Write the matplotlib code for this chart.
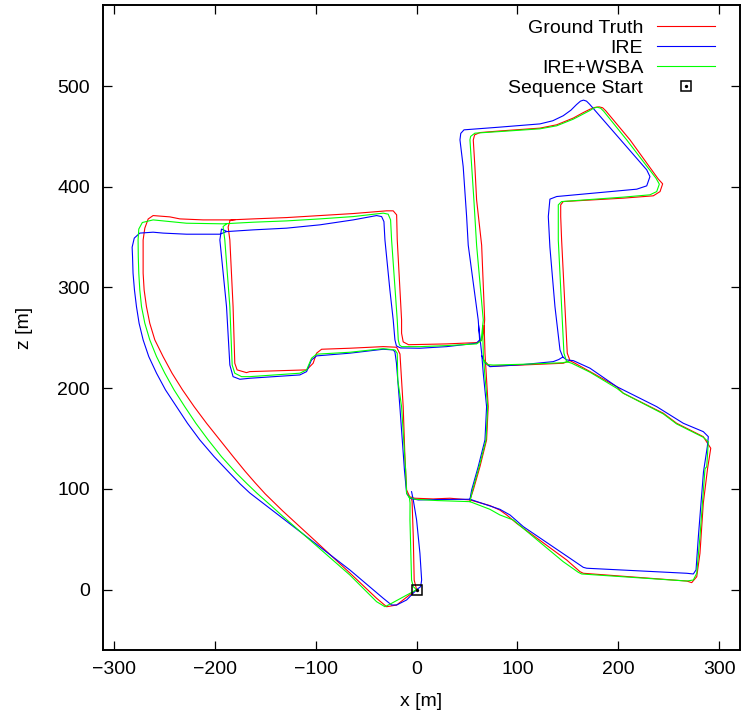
import numpy as np
import matplotlib.pyplot as plt
from matplotlib.legend_handler import HandlerTuple

plt.rcParams['font.family'] = ['Liberation Sans', 'DejaVu Sans']
plt.rcParams['font.size'] = 14

# --- Trajectories (x, z) in metres ---
# every series is kept as four pieces: the main route, the leg leaving the start,
# the eastern north-south road and the short link road at z ~ 222

# Ground Truth
gt_main = [(0, 0), (-5, -3.6), (-19.8, -15.2), (-29.8, -16.9), (-39.7, -8.5), (-66.2, 16.6),
           (-98.9, 47), (-132.6, 78), (-150, 95), (-160, 106), (-170, 117.5), (-181.9, 132.1),
           (-195.1, 148.7), (-208.3, 165.2), (-220.6, 181.7), (-232.1, 198.3), (-242.5, 214.9),
           (-251.4, 231.4), (-259.6, 248), (-264.6, 264.5), (-267.9, 281), (-270.2, 297.6),
           (-271.2, 314.2), (-271.2, 330.7), (-271.2, 347.2), (-269.5, 359), (-266.2, 368),
           (-261.3, 371.4), (-244.7, 370.1), (-234.8, 368.1), (-211.7, 367.1), (-185.2, 367.1),
           (-162.1, 368.1), (-129, 369.4), (-95.9, 371.4), (-62.9, 373.4), (-29.8, 376.1),
           (-23.2, 376.1), (-19.8, 372.1), (-19.2, 347.3), (-14.9, 267.8), (-14.9, 254.6),
           (-13.3, 246), (-8, 243.2), (29.8, 244), (59.5, 245.3), (64.5, 247.5), (66.5, 256),
           (67.5, 268), (64.5, 342), (59.5, 387), (57.8, 420), (56.2, 446.4), (57.5, 451.5),
           (62.8, 453.8), (82.6, 455.4), (122.3, 458.2), (138.9, 461.5), (155.4, 468.2),
           (165, 473.5), (172, 477), (177, 478.8), (181, 479.3), (184.5, 478.4), (187.5, 475.5),
           (211.6, 446.6), (239.7, 407.6), (244, 402.9), (241.4, 395.2), (234.7, 391),
           (205, 388.7), (145.4, 385.3), (142.9, 382), (142.9, 370.4), (143.8, 347.3),
           (147.1, 281), (149.4, 234.8), (152.1, 227.4), (157, 224.8), (172, 216.5),
           (198.4, 201.6), (205, 195), (244.6, 175.2), (257.9, 165.2), (284.3, 151.9),
           (291.7, 140.4), (288.5, 120), (284.3, 85.8), (281, 36.1), (277.8, 12.9), (272.8, 7),
           (267.9, 8.6), (165.3, 16.3), (162, 17.9), (148.8, 29.5), (99.2, 65.9), (89.3, 74.2),
           (82.6, 79), (72.7, 83.5), (52.9, 89.1), (33, 90.8), (16.5, 90.1), (-1.7, 90.8),
           (-6.6, 91.8), (-9.9, 99), (-11.6, 132.1), (-13.3, 181.7), (-14.9, 208.2),
           (-16.5, 234), (-19.8, 240.7), (-33.1, 241.3), (-66.2, 239.7), (-94.2, 238.7),
           (-99.2, 234.8), (-102.6, 224.8), (-109.1, 218.2), (-165.4, 216.5), (-168.7, 215.5),
           (-178, 218.2), (-180.3, 224.8), (-182, 281), (-185.2, 347.2), (-186.9, 360),
           (-185, 366.5), (-180, 367.3)]
gt_start = [(0, 0), (-2.4, 9.6), (-3.3, 52.6), (-4.5, 88), (-5.5, 92)]
gt_east = [(67, 262), (67.8, 234.8), (69.4, 208.2), (71, 181.7), (69.4, 148.7),
           (62.8, 122.1), (56.2, 99), (52.9, 89.1)]
gt_link = [(68.3, 226), (72.7, 221.8), (105.8, 223.1), (145.4, 224.8), (152.1, 227.4)]

# IRE
ire_main = [(0, 0), (-9.9, -10.2), (-19.8, -15.2), (-24.8, -15.2), (-33.1, -8.5), (-66.2, 19.6),
            (-99.2, 45), (-132.3, 70.5), (-150, 84), (-165.4, 96), (-175, 105),
            (-185.2, 115.6), (-200.8, 132.1), (-215, 148.7), (-227.2, 165.2), (-238.1, 181.7),
            (-249, 198.3), (-257.9, 214.9), (-265.6, 231.4), (-271.2, 248), (-275.2, 264.5),
            (-277.8, 281), (-279.8, 297.6), (-281.2, 314.2), (-281.7, 330.6), (-282.1, 340),
            (-280, 349), (-274.5, 354), (-261.3, 354.9), (-251.4, 354), (-228.2, 352.9),
            (-195.1, 352.9), (-188.5, 355.5), (-162.1, 357.2), (-129, 358.9), (-95.9, 362.2),
            (-62.9, 367.1), (-39.7, 371.4), (-34.7, 370.4), (-32.4, 365.4), (-31.4, 347.2),
            (-26.5, 297.6), (-23.2, 267.8), (-21.5, 248), (-20, 242), (-16, 240), (3.3, 239.7),
            (29.8, 241.3), (59.5, 244.7), (62.5, 248), (61.1, 267.8), (51.2, 342),
            (49.6, 370.4), (46.2, 420), (43, 446.6), (43.8, 453), (47, 456.5), (82.6, 459.2),
            (122.3, 462.4), (135, 465.5), (145.4, 470.5), (153, 476), (158.5, 481.5),
            (162.5, 485), (165.5, 486), (168.5, 485), (171.5, 482), (228.2, 416.8),
            (231.4, 410.1), (228.2, 400.9), (218.3, 397.6), (138.9, 390.3), (132.2, 387.7),
            (130.6, 370.4), (132.2, 340), (137.2, 281), (142.2, 238), (145, 231),
            (148.8, 228.1), (155.4, 227.4), (171.9, 219.9), (198.4, 201.6), (238.1, 181.7),
            (264.5, 165.2), (284.3, 156.9), (289.3, 151.9), (288.3, 142), (284.5, 117),
            (279.4, 52.6), (277.1, 19.6), (274.4, 15.6), (267.9, 16.3), (168.7, 21.3),
            (165.3, 22.2), (152.1, 31.2), (105.8, 62.6), (92.6, 74.2), (82.6, 79.8),
            (72.7, 83.1), (52.9, 89.8), (20, 89.5), (1.6, 89.1), (-6.6, 90.8), (-9.9, 95.7),
            (-12, 118), (-16.6, 181.7), (-20, 225), (-21.5, 236), (-23.2, 238), (-33.1, 238.7),
            (-66.2, 234.8), (-99.2, 232.1), (-104.2, 228.1), (-109.1, 216.5), (-115.8, 213.2),
            (-165.4, 209.9), (-175.3, 208.9), (-182, 211.5), (-185.2, 223.1), (-188.5, 281),
            (-195.1, 347.2), (-193.5, 358), (-189, 356)]
ire_start = [(0, 0), (4, 3), (5, 9.6), (3.3, 36.1), (0, 69.2), (-3.3, 89.1), (-5, 97.3)]
ire_east = [(61.5, 262), (64.5, 234.8), (66.1, 214.9), (69.4, 181.7), (67.8, 148.7),
            (61.1, 122.1), (54.6, 99), (52.9, 89.8)]
ire_link = [(64.8, 232), (68, 225), (72.7, 221.4), (105.8, 223.5), (135.5, 226.4),
            (141, 228.5), (145, 231)]

# IRE+WSBA
wsba_main = [(0, 0), (-6.6, -3.6), (-24.8, -13.5), (-31.4, -16.9), (-39.7, -11.9),
             (-66.2, 14.6), (-99.2, 43.5), (-132.3, 72.5), (-145, 84), (-158, 95.5),
             (-168, 105), (-178.6, 115.6), (-193.5, 132.1), (-206.7, 148.7), (-218.9, 165.2),
             (-229.9, 181.7), (-240.5, 198.3), (-249.7, 214.9), (-257.9, 231.4), (-264.6, 248),
             (-269.5, 264.5), (-272.8, 281), (-274.5, 297.6), (-275.5, 314.2), (-276, 330.6),
             (-276.2, 347.2), (-275.5, 358), (-272, 364.5), (-261.3, 367.1), (-244.7, 365.4),
             (-228.2, 363.8), (-191.9, 363.2), (-162.1, 364.8), (-129, 366.1), (-95.9, 368.1),
             (-62.9, 370.4), (-33.1, 373.8), (-28.2, 372.8), (-25.8, 367.1), (-24.8, 347.2),
             (-19.2, 267.8), (-18.2, 248), (-17, 243), (-14.9, 241.3), (3.3, 241.3),
             (29.8, 242.3), (59.5, 244), (64, 247), (66.1, 267.8), (59.5, 342), (56.8, 387),
             (54.6, 420), (52.9, 446.6), (53.6, 450), (57.8, 453.2), (82.6, 454.8),
             (122.3, 457.5), (138.9, 460.5), (155.4, 467.1), (171.9, 475.7), (175.5, 478),
             (179, 479), (182.5, 478), (185.5, 475), (208.3, 446.6), (237.4, 408.5),
             (240.7, 402.6), (238.1, 395.2), (231.4, 392), (205, 389.7), (143.8, 385.3),
             (140.5, 382), (140.5, 370.4), (140.5, 347.2), (143.8, 281), (146.1, 234.8),
             (148.8, 226.4), (153.8, 224.8), (171.9, 215.9), (198.4, 200), (205, 195),
             (244.6, 174.5), (257.9, 164.5), (284.3, 151.3), (289.3, 146.9), (287.7, 122.1),
             (286, 120), (281, 52.6), (277.8, 16.3), (274.4, 9.6), (267.9, 8.6), (163.7, 15.6),
             (160.3, 17.3), (145.4, 27.8), (95.8, 69.2), (82.6, 74.2), (72.7, 79.8),
             (52.9, 87.4), (20, 88.5), (-1.7, 89.8), (-7.6, 91.8), (-9.9, 95.7), (-10.9, 118.9),
             (-14.9, 181.7), (-18.7, 208.2), (-19.2, 234.8), (-21.5, 238), (-33.1, 239.3),
             (-66.2, 235.7), (-99.2, 233.8), (-104.2, 229.8), (-109.1, 218.2), (-115.8, 214.9),
             (-165.4, 211.5), (-173.6, 211.5), (-180.3, 214.9), (-182.9, 223.1),
             (-185.2, 281), (-190.2, 347.2), (-191.9, 360.5), (-188, 363.5)]
wsba_start = [(0, 0), (-3.3, 3), (-5, 9.6), (-5.7, 36.1), (-6.6, 69.2), (-6.5, 86), (-7.2, 92)]
wsba_east = [(65.5, 262), (66.1, 234.8), (67.5, 215), (70.5, 181.7), (68.8, 148.7),
             (62, 122), (55.5, 99), (52.9, 87.4)]
wsba_link = [(66.5, 228), (70, 223.5), (76, 223), (105.8, 223.8), (145, 225.3), (150, 226.4)]

start_x, start_z = [0.0], [0.0]


def join(*pieces):
    # glue the pieces into one x/z pair, broken by NaN between pieces
    xs, zs = [], []
    for p in pieces:
        a = np.asarray(p, dtype=float)
        xs += list(a[:, 0]) + [np.nan]
        zs += list(a[:, 1]) + [np.nan]
    return np.array(xs), np.array(zs)


fig = plt.figure(figsize=(7.42, 7.19), dpi=100)
ax = fig.add_axes([0.1388, 0.0955, 0.8585, 0.8975])

gx, gz = join(gt_main, gt_start, gt_east, gt_link)
ix, iz = join(ire_main, ire_start, ire_east, ire_link)
wx, wz = join(wsba_main, wsba_start, wsba_east, wsba_link)

l_gt, = ax.plot(gx, gz, color='#ff0000', lw=0.8, label='Ground Truth')
l_ire, = ax.plot(ix, iz, color='#0000ff', lw=0.8, label='IRE')
l_wsba, = ax.plot(wx, wz, color='#00ff00', lw=0.8, label='IRE+WSBA')
sq, = ax.plot(start_x, start_z, ls='none', marker='s', ms=6.7, mfc='none', mec='black', mew=1.1)
dot, = ax.plot(start_x, start_z, ls='none', marker='o', ms=1.4, color='black')

ax.set_xlim(-311, 320.7)
ax.set_ylim(-60.2, 580.4)
ax.set_xticks([-300, -200, -100, 0, 100, 200, 300])
ax.set_yticks([0, 100, 200, 300, 400, 500])
ax.tick_params(direction='in', top=True, right=True, length=6.5, width=0.9)
ax.tick_params(axis='x', pad=8)
ax.tick_params(axis='y', pad=9.5)
for s in ax.spines.values():
    s.set_linewidth(1.4)

ax.set_xlabel('x [m]')
ax.set_ylabel('z [m]')
ax.xaxis.set_label_coords(0.5, -0.066)
ax.yaxis.set_label_coords(-0.110, 0.5)

ax.legend([l_gt, l_ire, l_wsba, (sq, dot)],
          ['Ground Truth', 'IRE', 'IRE+WSBA', 'Sequence Start'],
          handler_map={tuple: HandlerTuple(ndivide=1)},
          loc='upper right', bbox_to_anchor=(0.961, 0.978), frameon=False,
          markerfirst=False, handlelength=3.0, handletextpad=0.7,
          labelspacing=0.13, borderpad=0, borderaxespad=0, fontsize=14)

fig.savefig('out.png', dpi=100)
